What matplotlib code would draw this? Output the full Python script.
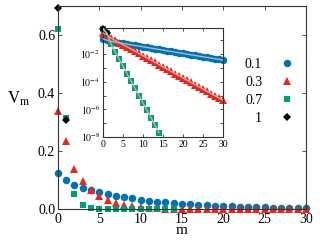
import matplotlib
matplotlib.use("Agg")
import math
import matplotlib.pyplot as plt
from matplotlib.ticker import LogLocator, FuncFormatter, NullLocator

plt.rcParams['font.family'] = ['Liberation Serif', 'DejaVu Serif']
plt.rcParams['mathtext.fontset'] = 'stix'

labels = ["0.1", "0.3", "0.7", "1"]
colors = ["#0072B2", "#E8251F", "#009E73", "#000000"]
markers = ["o", "^", "s", "D"]
msizes = [5.4, 5.4, 4.8, 3.8]

v_01 = [0.125, 0.100, 0.084, 0.073, 0.065, 0.058, 0.052, 0.0465, 0.0416, 0.0372,
        0.0333, 0.0298, 0.0267, 0.0239, 0.0214, 0.0191, 0.0171, 0.0153, 0.0137, 0.0123,
        0.0110, 0.0098, 0.0088, 0.0079, 0.0071, 0.0063, 0.0057, 0.0051, 0.0045, 0.0041,
        0.0036]
v_03 = [0.34, 0.235, 0.14, 0.097, 0.067, 0.047, 0.033, 0.023, 0.0159, 0.0110,
        0.0076, 0.0052, 0.0036, 0.0025, 0.00172, 0.00119, 0.00082, 0.00057, 0.00039, 0.00027,
        0.000186, 0.000128, 0.0000885, 0.0000611, 0.0000421, 0.0000291, 0.0000201, 0.0000138,
        0.0000095, 0.0000066, 0.0000045]
v_07 = [0.62, 0.315, 0.051, 0.015, 0.0044, 0.00130, 0.00038, 0.000112, 3.3e-5, 9.7e-6,
        2.85e-6, 8.4e-7, 2.5e-7, 7.3e-8, 2.1e-8]
v_10 = [0.693, 0.307]
series = [v_01, v_03, v_07, v_10]

xticks = [0, 5, 10, 15, 20, 25, 30]
yticks = [0.0, 0.2, 0.4, 0.6]

fig = plt.figure(figsize=(3.2, 2.4), dpi=100)
ax = fig.add_axes([0.181, 0.128, 0.775, 0.847])

handles = []
for vals, c, mk, ms, lab in zip(series, colors, markers, msizes, labels):
    m = list(range(len(vals)))
    h, = ax.plot(m, vals, linestyle='none', marker=mk, color=c, markersize=ms,
                 markeredgewidth=0, clip_on=False, label=lab)
    handles.append(h)

ax.set_xlim(0, 30)
ax.set_ylim(0, 0.70)
ax.set_xticks(xticks)
ax.set_yticks(yticks)
ax.set_yticklabels([f"{t:.1f}" for t in yticks])
ax.tick_params(direction='in', top=True, right=True, length=3, width=0.6,
               labelsize=10, colors='#333333', labelcolor='black')
ax.tick_params(axis='y', pad=2)
ax.tick_params(axis='x', pad=2.5)
for s in ax.spines.values():
    s.set_color('#333333')
    s.set_linewidth(0.8)
ax.set_xlabel("m", fontsize=11, labelpad=-1)
ax.set_ylabel(r"$\mathrm{V_m}$", fontsize=12, rotation=0)
ax.yaxis.set_label_coords(-0.16, 0.5)

fig.legend(handles=handles, labels=labels, loc='center', bbox_to_anchor=(0.853, 0.619),
           frameon=False, markerfirst=False, fontsize=10, handlelength=2.0,
           handletextpad=0.8, labelspacing=0.35)

# inset
ins = fig.add_axes([0.322, 0.429, 0.375, 0.454])
for vals, c, mk, ms in zip(series, colors, markers, msizes):
    m = list(range(len(vals)))
    ins.plot(m, vals, linestyle='none', marker=mk, color=c, markersize=ms,
             markeredgewidth=0, clip_on=False, zorder=2)
for vals in series:
    m = list(range(len(vals)))
    ins.plot(m, vals, '-', color='#b5b5b5', lw=1.0, zorder=3)
ins.set_yscale('log')
ins.set_xlim(0, 30)
ins.set_ylim(1e-8, 0.75)
ins.set_xticks(xticks)
ins.yaxis.set_major_locator(LogLocator(base=10, subs=(1.0,), numticks=20))
ins.yaxis.set_minor_locator(NullLocator())


def fmt(y, pos):
    e = int(round(math.log10(y)))
    if e % 2 == 0 and e < 0:
        return r"$10^{%d}$" % e
    return ""


ins.yaxis.set_major_formatter(FuncFormatter(fmt))
ins.tick_params(direction='in', top=True, right=True, length=2.5, width=0.6,
                labelsize=7, colors='#333333', labelcolor='black', pad=2)
for s in ins.spines.values():
    s.set_color('#333333')
    s.set_linewidth(0.8)

fig.savefig("out.png", dpi=100)
